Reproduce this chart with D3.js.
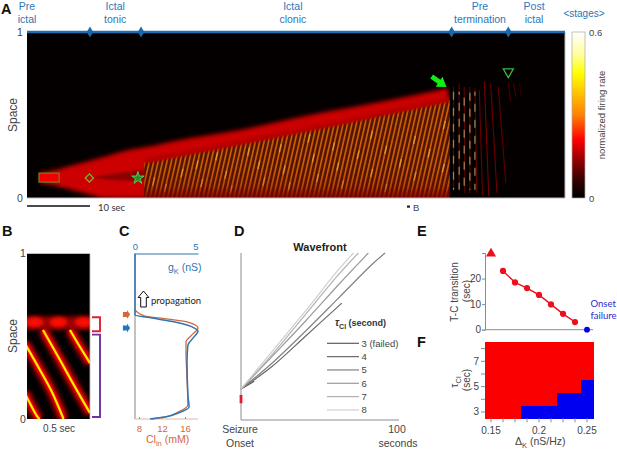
<!DOCTYPE html>
<html>
<head>
<meta charset="utf-8">
<script src="https://cdnjs.cloudflare.com/ajax/libs/d3/7.8.5/d3.min.js"></script>
<style>
  html, body { margin: 0; padding: 0; background: #fff; }
  text { font-family: "Liberation Sans", Arial, sans-serif; }
  .cal { font-family: Lato, "Open Sans", sans-serif; }
</style>
</head>
<body>
<div class="chart"></div>
<script>
// panel A: stage boundaries (sec) and labels
const stageEdges = [10, 18.1, 67.4, 76.4];
const stageLabels = [['Pre', 'ictal'], ['Ictal', 'tonic'], ['Ictal', 'clonic'], ['Pre', 'termination'], ['Post', 'ictal']];
const stageCentres = [0, 14, 42.2, 71.9, 80.5];

// colour map of the firing rate
const rateStops = [0, 0.06, 0.13, 0.21, 0.3, 0.45, 0.52, 0.6];
const rateColours = ['#000000', '#300000', '#8a0000', '#ff0000', '#ff8000', '#ffff00', '#ffffa0', '#ffffff'];

// wavefront of panel A: time (sec), upper and lower edge of the red band in space
const frontTime = [2.1, 5.1, 7.5, 10, 12.4, 16.3, 18.6, 24.3, 33.8, 44.9, 56, 66.9];
const frontUpper = [0.15, 0.175, 0.2, 0.225, 0.25, 0.29, 0.305, 0.35, 0.41, 0.5, 0.578, 0.663];
const frontLower = [0.09, 0.07, 0.045, 0.02, 0, 0, 0, 0, 0, 0, 0, 0];

// upper limit of the striped clonic part
const clonicTime = [18.6, 33.8, 49.7, 67.1];
const clonicTop = [0.217, 0.33, 0.45, 0.59];

// darker slit inside the tonic part
const slitTime = [10.5, 13, 15.5, 18.6];
const slitUpper = [0.128, 0.14, 0.155, 0.17];
const slitLower = [0.124, 0.112, 0.105, 0.1];

// clonic stripes: time at which each one meets space 0
const clonicStripes = [17.4, 18.1, 18.8, 19.5, 20.2, 20.9, 21.6, 22.3, 23.0, 23.7, 24.4, 25.1, 25.8, 26.5, 27.2, 27.9, 28.6, 29.3,
  30.0, 30.7, 31.4, 32.1, 32.8, 33.5, 34.2, 34.9, 35.6, 36.3, 37.0, 37.7, 38.4, 39.1, 39.8, 40.5, 41.2, 41.9, 42.6, 43.3, 44.0, 44.7,
  45.4, 46.1, 46.8, 47.5, 48.2, 48.9, 49.6, 50.3, 51.0, 51.7, 52.4, 53.1, 53.8, 54.5, 55.2, 55.9, 56.6, 57.3, 58.0, 58.7, 59.4,
  60.1, 60.8, 61.5, 62.2, 62.9, 63.6, 64.3, 65.0, 65.7, 66.4];
const clonicLean = 6;

// brighter spots on the stripes: stripe time, space
const clonicSpots = [[19.5, 0.1], [21.6, 0.06], [23.7, 0.15], [25.8, 0.2], [27.2, 0.09], [28.6, 0.25], [30.7, 0.14], [32.1, 0.05], [33.5, 0.28],
  [35.6, 0.2], [37.0, 0.1], [38.4, 0.3], [39.8, 0.17], [41.2, 0.07], [42.6, 0.36], [44.0, 0.24], [45.4, 0.12], [46.8, 0.31], [48.2, 0.19], [49.6, 0.08],
  [51.0, 0.26], [52.4, 0.38], [53.8, 0.15], [55.2, 0.29], [56.6, 0.06], [58.0, 0.21], [59.4, 0.35], [60.8, 0.13], [62.2, 0.27], [63.6, 0.44], [65.0, 0.18], [65.7, 0.33]];

// pretermination stripes: time at top, space at top, time at bottom, space at bottom, peak rate
const preStripes = [
  [67.7, 0.67, 67.7, 0.05, 0.1], [68.6, 0.69, 68.6, 0.05, 0.1], [69.4, 0.67, 69.5, 0.03, 0.1], [70.3, 0.67, 70.3, 0.03, 0.1],
  [71.1, 0.66, 71.4, 0.03, 0.1], [71.8, 0.65, 72.3, 0.02, 0.1], [72.6, 0.7, 73.3, 0.01, 0.115], [73.6, 0.69, 74.6, 0.03, 0.105],
  [74.8, 0.67, 76, 0.09, 0.095], [76.4, 0.69, 76.8, 0.58, 0.08], [77.2, 0.69, 77.6, 0.61, 0.08], [78.2, 0.69, 78.4, 0.62, 0.06]];
const preBright = [67.7, 68.6, 69.4, 70.3, 71.1];

// markers on panel A: time, space
const stimBox = [1.9, 5.1, 0.096, 0.15];
const diamondAt = [9.9, 0.12];
const starAt = [17.6, 0.12];
const triangleAt = [76.4, 0.76];

// panel B: travelling stripes, time (sec), space
const bStripes = [
  [[0.127, 0.538], [0.262, 0.356], [0.381, 0.193], [0.5, 0.036]],
  [[0.341, 0.538], [0.421, 0.435], [0.5, 0.338]],
  [[-0.02, 0.46], [0.103, 0.296], [0.198, 0.163], [0.29, 0]],
  [[-0.02, 0.16], [0.079, 0.018], [0.1, 0]]];
const bPulses = [0.06, 0.25, 0.45];

// panel C: conductance and chloride against space
const gkValues = [0, 0, 1.35, 3.17, 4.76, 5, 4.6, 4.2, 4.13, 4.2, 4.29, 3.41, 2.38, 1.19];
const gkSpace = [1, 0.628, 0.61, 0.586, 0.548, 0.532, 0.489, 0.447, 0.344, 0.145, 0.073, 0.036, 0.012, 0];
const clValues = [7.3, 9.04, 13.04, 16.5, 18.26, 17.2, 16.17, 16.17, 16.35, 16.5, 14.8, 12.5, 10.26];
const clSpace = [0.659, 0.622, 0.604, 0.586, 0.55, 0.508, 0.465, 0.405, 0.248, 0.085, 0.042, 0.012, 0];

// panel D: wavefronts per tau
const tauNames = ['3 (failed)', '4', '5', '6', '7', '8'];
const tauGreys = ['#5c5c5c', '#6a6a6a', '#828282', '#9a9a9a', '#b2b2b2', '#cfcfcf'];
const waveTime = [
  [0, 3.8, 8.4],
  [0, 19.6, 40.6, 63.8],
  [0, 19.6, 40.6, 61.7, 82.7, 91.2],
  [0, 19.6, 40.6, 61.7, 80.6],
  [0, 19.6, 40.6, 61.7, 74.3],
  [0, 19.6, 40.6, 61.7, 71.2]];
const waveSpace = [
  [0.186, 0.206, 0.232],
  [0.186, 0.32, 0.5, 0.7],
  [0.186, 0.34, 0.53, 0.73, 0.93, 1],
  [0.186, 0.38, 0.59, 0.81, 1],
  [0.186, 0.39, 0.63, 0.87, 1],
  [0.186, 0.41, 0.65, 0.9, 1]];

// panel E: transition time against delta K
const deltaK = [0.1625, 0.175, 0.1875, 0.2, 0.2125, 0.225, 0.2375];
const transition = [23, 18.5, 16.3, 13.6, 9.9, 6.2, 3];
const failedAt = [0.25, 0];
const noTonicAt = [0.15, 30];

// panel F: grid of delta K and tau, with the first failing delta K per tau
const gridDelta = [0.15, 0.1625, 0.175, 0.1875, 0.2, 0.2125, 0.225, 0.2375, 0.25];
const gridTau = [8, 7, 6, 5, 4, 3];
const failFrom = { 3: 0.1875, 4: 0.225, 5: 0.25 };

const blue = '#2e75b6';
const orange = '#d2693c';
const green = '#3cb43c';
const textGrey = '#444';

const svg = d3.select('div.chart').append('svg')
  .attr('width', 617).attr('height', 451).style('display', 'block');
const defs = svg.append('defs');

const blur = (id, dev) => defs.append('filter').attr('id', id)
  .attr('x', '-30%').attr('y', '-30%').attr('width', '160%').attr('height', '160%')
  .append('feGaussianBlur').attr('stdDeviation', dev);
blur('b1', 0.4);
blur('b1b', 0.55);
blur('b2', 1.3);
blur('b3', 2.3);

const rateColor = d3.scaleLinear().domain(rateStops).range(rateColours);

const label = (x, y, str, o = {}) => svg.append('text')
  .attr('x', x).attr('y', y).text(str)
  .attr('class', o.cls || null)
  .attr('fill', o.fill || textGrey)
  .attr('font-size', o.size || 10.5)
  .attr('font-weight', o.weight || null)
  .attr('text-anchor', o.anchor || 'start')
  .attr('transform', o.rotate ? `rotate(${o.rotate} ${x} ${y})` : null);

const letter = (x, y, str) => label(x, y, str, { size: 14.5, weight: 'bold', fill: '#111' });

// ---------- panel A ----------
const ax = d3.scaleLinear().domain([0, 85.4]).range([27, 565]);
const ay = d3.scaleLinear().domain([0, 1]).range([198, 32]);

defs.append('clipPath').attr('id', 'clipA').append('rect')
  .attr('x', 27).attr('y', 32).attr('width', 538).attr('height', 166);
defs.append('clipPath').attr('id', 'clipBand').append('rect')
  .attr('x', 27).attr('y', 32).attr('width', ax(67.1) - 27).attr('height', 166);

const panelA = svg.append('g').attr('clip-path', 'url(#clipA)');
panelA.append('rect').attr('x', 27).attr('y', 32).attr('width', 538).attr('height', 166).attr('fill', '#040000');

const bandArea = d3.area().x(i => ax(frontTime[i])).y0(i => ay(frontLower[i])).y1(i => ay(frontUpper[i])).curve(d3.curveMonotoneX);
panelA.append('g').attr('clip-path', 'url(#clipBand)')
  .append('path').datum(d3.range(frontTime.length))
  .attr('d', bandArea).attr('fill', rateColor(0.175)).attr('filter', 'url(#b3)');

const slitArea = d3.area().x(i => ax(slitTime[i])).y0(i => ay(slitLower[i])).y1(i => ay(slitUpper[i])).curve(d3.curveMonotoneX);
panelA.append('path').datum(d3.range(slitTime.length))
  .attr('d', slitArea).attr('fill', rateColor(0.11)).attr('filter', 'url(#b2)').attr('opacity', 0.7);

// stimulus box
panelA.append('rect')
  .attr('x', ax(stimBox[0])).attr('y', ay(stimBox[3]))
  .attr('width', ax(stimBox[1]) - ax(stimBox[0])).attr('height', ay(stimBox[2]) - ay(stimBox[3]))
  .attr('fill', rateColor(0.2)).attr('filter', 'url(#b1)');

// clonic stripes
const clonicArea = d3.area().x(i => ax(clonicTime[i])).y0(ay(0)).y1(i => ay(clonicTop[i]));
defs.append('clipPath').attr('id', 'clipClonic').append('path')
  .datum(d3.range(clonicTime.length)).attr('d', clonicArea);

const clonic = panelA.append('g').attr('clip-path', 'url(#clipClonic)');
const stripeShade = defs.append('linearGradient').attr('id', 'clonicShade').attr('x1', 0).attr('x2', 0).attr('y1', 1).attr('y2', 0);
stripeShade.append('stop').attr('offset', 0).attr('stop-color', '#7a0000').attr('stop-opacity', 0.9);
stripeShade.append('stop').attr('offset', 0.12).attr('stop-color', '#7a0000').attr('stop-opacity', 0.2);
stripeShade.append('stop').attr('offset', 0.3).attr('stop-color', '#7a0000').attr('stop-opacity', 0);

clonic.append('rect').attr('x', ax(18.6)).attr('y', ay(0.6)).attr('width', ax(67.1) - ax(18.6)).attr('height', ay(0) - ay(0.6))
  .attr('fill', '#541402');
const clonicLines = clonic.append('g').attr('filter', 'url(#b1b)');
clonicLines.selectAll('line').data(clonicStripes).enter().append('line')
  .attr('x1', d => ax(d)).attr('y1', ay(0))
  .attr('x2', d => ax(d + clonicLean)).attr('y2', ay(1))
  .attr('stroke', rateColor(0.3)).attr('stroke-opacity', 0.68).attr('stroke-width', 1.7);
clonicLines.selectAll('line.spot').data(clonicSpots).enter().append('line').classed('spot', true)
  .attr('x1', d => ax(d[0] + clonicLean * (d[1] - 0.025))).attr('y1', d => ay(d[1] - 0.025))
  .attr('x2', d => ax(d[0] + clonicLean * (d[1] + 0.025))).attr('y2', d => ay(d[1] + 0.025))
  .attr('stroke', '#e0a830').attr('stroke-opacity', 0.8).attr('stroke-width', 1.4);
clonic.append('rect').attr('x', ax(18.6)).attr('y', ay(0.6)).attr('width', ax(67.1) - ax(18.6)).attr('height', ay(0) - ay(0.6))
  .attr('fill', 'url(#clonicShade)');

// fade the top of the stripes into the band
const fadeArea = d3.area().x(i => ax(clonicTime[i])).y0(i => ay(clonicTop[i] - 0.012)).y1(i => ay(clonicTop[i] + 0.022));
panelA.append('g').attr('clip-path', 'url(#clipBand)')
  .append('path').datum(d3.range(clonicTime.length))
  .attr('d', fadeArea).attr('fill', rateColor(0.16)).attr('filter', 'url(#b2)');

// pretermination stripes
const preGroup = panelA.append('g').attr('filter', 'url(#b1)');
preGroup.selectAll('line').data(preStripes).enter().append('line')
  .attr('x1', d => ax(d[0])).attr('y1', d => ay(d[1]))
  .attr('x2', d => ax(d[2])).attr('y2', d => ay(d[3]))
  .attr('stroke', d => rateColor(d[4])).attr('stroke-width', 1.1);
const preSpots = panelA.append('g').attr('filter', 'url(#b1b)');
preSpots.selectAll('line').data(preBright).enter().append('line')
  .attr('x1', d => ax(d)).attr('y1', ay(0.64))
  .attr('x2', d => ax(d)).attr('y2', ay(0.05))
  .attr('stroke', '#b0a060').attr('stroke-opacity', 0.8).attr('stroke-width', 1.3)
  .attr('stroke-dasharray', '8 8').attr('stroke-dashoffset', (d, i) => i * 5);

// frame
svg.append('path').attr('d', `M${ax(0)},${ay(0)}H${ax(85.4)}V${ay(1)}`).attr('fill', 'none').attr('stroke', '#bbb').attr('stroke-width', 1);

// markers
const symbolAt = (type, size, x, y, rot = 0) => svg.append('path')
  .attr('d', d3.symbol().type(type).size(size)())
  .attr('transform', `translate(${x},${y}) rotate(${rot})`);

svg.append('rect')
  .attr('x', ax(stimBox[0])).attr('y', ay(stimBox[3]))
  .attr('width', ax(stimBox[1]) - ax(stimBox[0])).attr('height', ay(stimBox[2]) - ay(stimBox[3]))
  .attr('fill', 'none').attr('stroke', '#6e8a20').attr('stroke-width', 1.1);
symbolAt(d3.symbolSquare, 34, ax(diamondAt[0]), ay(diamondAt[1]), 45).attr('fill', 'none').attr('stroke', '#6ebe28').attr('stroke-width', 1.2);
symbolAt(d3.symbolStar, 48, ax(starAt[0]), ay(starAt[1])).attr('fill', '#2f8a2f').attr('stroke', '#4ed04e').attr('stroke-width', 1);
symbolAt(d3.symbolTriangle, 44, ax(triangleAt[0]), ay(triangleAt[1]), 180).attr('fill', 'none').attr('stroke', green).attr('stroke-width', 1.3);

// big green arrow, drawn pointing right then turned onto the front
const blockArrow = d3.line()([[-12, -2.4], [-3, -2.4], [-3, -6], [6, 0], [-3, 6], [-3, 2.4], [-12, 2.4]]) + 'Z';
svg.append('path').attr('d', blockArrow).attr('fill', '#10f010')
  .attr('transform', `translate(${ax(65.8)},${ay(0.69)}) rotate(35)`);

// stage bar
svg.append('line').attr('x1', 27).attr('x2', 565).attr('y1', 32).attr('y2', 32)
  .attr('stroke', '#1f6fb4').attr('stroke-width', 2.4);
svg.selectAll('path.stage').data(stageEdges).enter().append('path').classed('stage', true)
  .attr('d', d3.symbol().type(d3.symbolDiamond).size(36)())
  .attr('transform', d => `translate(${ax(d)},32)`).attr('fill', '#1c68a8');

stageLabels.forEach((pair, i) => {
  pair.forEach((str, j) => label(ax(stageCentres[i]), 9.6 + j * 13.6, str, { fill: blue, size: 10.5, anchor: 'middle' }));
});
label(584, 16.5, '<stages>', { fill: blue, size: 10, anchor: 'middle' });

letter(1, 13.5, 'A');
label(20, 36, '1', { anchor: 'middle' });
label(20, 202, '0', { anchor: 'middle' });
label(17, 115, 'Space', { rotate: -90, anchor: 'middle', size: 12 });

// scale bars
svg.append('line').attr('x1', ax(0)).attr('x2', ax(10)).attr('y1', 206).attr('y2', 206).attr('stroke', '#111').attr('stroke-width', 1.6);
label(98, 211, '10 sec', { cls: 'cal', size: 9.5, fill: '#333' });
svg.append('rect').attr('x', 407).attr('y', 205.5).attr('width', 3).attr('height', 2.2).attr('fill', '#222');
label(413, 211, 'B', { size: 9.5 });

// colour bar
const barGrad = defs.append('linearGradient').attr('id', 'rateBar').attr('x1', 0).attr('x2', 0).attr('y1', 1).attr('y2', 0);
rateStops.forEach(d => barGrad.append('stop').attr('offset', d / 0.6).attr('stop-color', rateColor(d)));
svg.append('rect').attr('x', 572).attr('y', 32).attr('width', 13).attr('height', 166)
  .attr('fill', 'url(#rateBar)').attr('stroke', '#aaa').attr('stroke-width', 0.7);
label(589, 36, '0.6', { size: 9.5 });
label(589, 202, '0', { size: 9.5 });
label(605, 115, 'normalized firing rate', { rotate: -90, anchor: 'middle', size: 9.5 });

// ---------- panel B ----------
const bx = d3.scaleLinear().domain([0, 0.5]).range([27, 90]);
const by = d3.scaleLinear().domain([0, 1]).range([419, 253.5]);
defs.append('clipPath').attr('id', 'clipB').append('rect')
  .attr('x', 27).attr('y', 253.5).attr('width', 63).attr('height', 165.5);

const panelB = svg.append('g').attr('clip-path', 'url(#clipB)');
panelB.append('rect').attr('x', 27).attr('y', 253.5).attr('width', 63).attr('height', 165.5).attr('fill', '#000');
panelB.append('rect').attr('x', 15).attr('y', by(0.62)).attr('width', 90).attr('height', by(0.54) - by(0.62))
  .attr('fill', rateColor(0.14)).attr('filter', 'url(#b3)');
panelB.selectAll('ellipse').data(bPulses).enter().append('ellipse')
  .attr('cx', d => bx(d)).attr('cy', by(0.585)).attr('rx', 9).attr('ry', 5)
  .attr('fill', rateColor(0.22)).attr('filter', 'url(#b3)');

const bLine = d3.line().x(d => bx(d[0])).y(d => by(d[1])).curve(d3.curveCatmullRom);
const bLayer = (rate, w, filt) => panelB.append('g').selectAll('path').data(bStripes).enter().append('path')
  .attr('d', bLine).attr('fill', 'none').attr('stroke', rateColor(rate)).attr('stroke-width', w).attr('filter', filt);
bLayer(0.15, 11, 'url(#b3)');
bLayer(0.21, 5, 'url(#b2)');
bLayer(0.43, 2.2, 'url(#b1b)');

svg.append('path').attr('d', `M${bx(0.5)},253.5V419`).attr('stroke', '#bbb').attr('fill', 'none').attr('stroke-width', 0.8);

letter(2, 236, 'B');
label(23, 257, '1', { anchor: 'middle' });
label(23, 423, '0', { anchor: 'middle' });
label(17, 336, 'Space', { rotate: -90, anchor: 'middle', size: 12 });
label(59, 432, '0.5 sec', { anchor: 'middle', size: 10 });

// brackets
const bracket = (y0, y1, colour) => svg.append('path')
  .attr('d', `M92,${y0}H100V${y1}H92`).attr('fill', 'none').attr('stroke', colour).attr('stroke-width', 1.9);
bracket(by(0.615), by(0.53), '#e21e2c');
bracket(by(0.51), by(0.012), '#7030a0');

// ---------- panel C ----------
const gx = d3.scaleLinear().domain([0, 5]).range([135, 198]);
const clx = d3.scaleLinear().domain([8, 16]).range([139, 185]);
const cy = by;

svg.append('line').attr('x1', 135).attr('x2', 135).attr('y1', 253.5).attr('y2', 419).attr('stroke', '#999').attr('stroke-width', 1.2);

const topAxis = svg.append('g').attr('transform', 'translate(0,253.5)')
  .call(d3.axisTop(gx).tickValues([0, 5]).tickFormat(d3.format('d')).tickSize(0).tickPadding(4));
topAxis.select('.domain').attr('stroke', blue).attr('stroke-width', 1.2);
topAxis.selectAll('text').attr('fill', blue).attr('font-size', 9.5).attr('font-family', null);
topAxis.selectAll('.tick text').attr('text-anchor', d => d === 5 ? 'end' : 'middle');

const botAxis = svg.append('g').attr('transform', 'translate(0,419)')
  .call(d3.axisBottom(clx).tickValues([8, 12, 16]).tickSize(-2).tickPadding(6));
botAxis.select('.domain').remove();
botAxis.append('line').attr('x1', 135).attr('x2', 198).attr('stroke', '#e0b8a0').attr('stroke-width', 1);
botAxis.selectAll('.tick line').attr('stroke', orange);
botAxis.selectAll('.tick text').attr('fill', orange).attr('font-size', 9.5).attr('font-family', null);

const gLine = d3.line().x(i => gx(gkValues[i])).y(i => cy(gkSpace[i])).curve(d3.curveMonotoneY);
const clLine = d3.line().x(i => clx(clValues[i])).y(i => cy(clSpace[i])).curve(d3.curveMonotoneY);
svg.append('path').datum(d3.range(clValues.length)).attr('d', clLine).attr('fill', 'none').attr('stroke', orange).attr('stroke-width', 1.3);
svg.append('path').datum(d3.range(gkValues.length)).attr('d', gLine).attr('fill', 'none').attr('stroke', blue).attr('stroke-width', 1.5);

letter(119, 236, 'C');
const gkLabel = label(168, 271, 'g', { fill: blue, size: 10.5 });
gkLabel.append('tspan').text('K').attr('dy', 3).attr('font-size', 7.5);
gkLabel.append('tspan').text(' (nS)').attr('dy', -3);
const clLabel = label(146, 443, 'Cl', { fill: orange, size: 10.5 });
clLabel.append('tspan').text('in').attr('dy', 3).attr('font-size', 7.5);
clLabel.append('tspan').text(' (mM)').attr('dy', -3);

const smallArrow = d3.line()([[-3.6, -2.6], [0.5, -2.6], [0.5, -4.6], [3.6, 0], [0.5, 4.6], [0.5, 2.6], [-3.6, 2.6]]) + 'Z';
svg.append('path').attr('d', smallArrow).attr('fill', orange).attr('transform', 'translate(126.5,314.5)');
svg.append('path').attr('d', smallArrow).attr('fill', '#1f78c0').attr('transform', 'translate(126.5,328)');

// hollow propagation arrow, same outline turned upwards
const hollowArrow = d3.line()([[-8, -2.8], [1.5, -2.8], [1.5, -5.4], [8, 0], [1.5, 5.4], [1.5, 2.8], [-8, 2.8]]) + 'Z';
svg.append('path').attr('d', hollowArrow).attr('fill', '#fff').attr('stroke', '#111').attr('stroke-width', 1)
  .attr('transform', 'translate(143.5,299) rotate(-90)');
label(151, 304, 'propagation', { cls: 'cal', size: 9.5, fill: '#222' });

// ---------- panel D ----------
const dx = d3.scaleLinear().domain([0, 100]).range([241, 399]);
const dy = d3.scaleLinear().domain([0, 1]).range([420, 253]);

svg.append('path').attr('d', `M${dx(0)},${dy(1)}V${dy(0)}H${dx(100)}`).attr('fill', 'none').attr('stroke', '#8c8c8c').attr('stroke-width', 1);
svg.append('rect').attr('x', dx(0) - 1.4).attr('y', dy(0.15)).attr('width', 2.8).attr('height', dy(0.1) - dy(0.15)).attr('fill', '#e21e2c');

const waveLine = d3.line().x(d => dx(d[0])).y(d => dy(d[1])).curve(d3.curveCatmullRom);
tauNames.forEach((name, i) => {
  const pts = waveTime[i].map((t, j) => [t, waveSpace[i][j]]);
  svg.append('path').datum(pts).attr('d', waveLine).attr('fill', 'none').attr('stroke', tauGreys[i]).attr('stroke-width', 1.2);
  const ly = 343.3 + i * 13.33;
  svg.append('line').attr('x1', 327).attr('x2', 359).attr('y1', ly).attr('y2', ly).attr('stroke', tauGreys[i]).attr('stroke-width', 1.2);
  label(361.5, ly + 3.4, name, { size: 9.5, fill: '#444' });
});

letter(234, 236, 'D');
label(320, 251, 'Wavefront', { size: 11, weight: 'bold', anchor: 'middle', fill: '#222' });
const tauTitle = label(335, 326, 'τ', { size: 10, fill: '#333', weight: 'bold' });
tauTitle.attr('font-style', 'italic');
tauTitle.append('tspan').text('Cl').attr('dy', 3).attr('font-size', 7).attr('font-style', 'normal');
tauTitle.append('tspan').text(' (second)').attr('dy', -3).attr('font-size', 9).attr('font-style', 'normal');
label(240, 433, 'Seizure', { anchor: 'middle', size: 10.5 });
label(240, 447, 'Onset', { anchor: 'middle', size: 10.5 });
label(397, 433, '100', { anchor: 'middle', size: 10.5 });
label(398, 447, 'seconds', { anchor: 'middle', size: 10.5 });

// ---------- panel E ----------
const ex = d3.scaleLinear().domain([0.15, 0.25]).range([491, 587]);
const ey = d3.scaleLinear().domain([0, 30]).range([329.7, 253]);

const eLeft = svg.append('g').attr('transform', 'translate(485,0)')
  .call(d3.axisLeft(ey).tickValues([0, 10, 20]).tickSize(3).tickPadding(1));
eLeft.select('.domain').attr('stroke', '#8c8c8c');
eLeft.selectAll('.tick line').attr('stroke', '#8c8c8c');
eLeft.selectAll('.tick text').attr('fill', textGrey).attr('font-size', 10).attr('font-family', null);
svg.append('line').attr('x1', 485).attr('x2', 593).attr('y1', ey(0)).attr('y2', ey(0)).attr('stroke', '#8c8c8c');

const eLine = d3.line().x(i => ex(deltaK[i])).y(i => ey(transition[i]));
svg.append('path').datum(d3.range(deltaK.length)).attr('d', eLine).attr('fill', 'none').attr('stroke', '#e8101c').attr('stroke-width', 1.4);
svg.selectAll('circle.tc').data(deltaK).enter().append('circle').classed('tc', true)
  .attr('cx', d => ex(d)).attr('cy', (d, i) => ey(transition[i])).attr('r', 3.1).attr('fill', '#ee0f1c');
svg.append('circle').attr('cx', ex(failedAt[0])).attr('cy', ey(failedAt[1])).attr('r', 2.9).attr('fill', '#0000e0');
svg.append('path').attr('d', d3.symbol().type(d3.symbolTriangle).size(44)())
  .attr('transform', `translate(${ex(noTonicAt[0])},${ey(noTonicAt[1]) + 0.5})`).attr('fill', '#ee0f1c');

letter(417, 236, 'E');
label(458, 292, 'T-C transition', { rotate: -90, anchor: 'middle', size: 10 });
label(470, 291, '(sec)', { rotate: -90, anchor: 'middle', size: 10 });
label(590.5, 307, 'Onset', { fill: '#2a2ad0', size: 9.5, cls: 'cal' });
label(590.5, 319, 'failure', { fill: '#2a2ad0', size: 9.5, cls: 'cal' });

// ---------- panel F ----------
const fx = d3.scaleBand().domain(gridDelta).range([485, 593]);
const fy = d3.scaleBand().domain(gridTau).range([342.3, 418.3]);
const cells = gridTau.flatMap(tau => gridDelta.map(dk => ({ tau, dk })));

svg.selectAll('rect.cell').data(cells).enter().append('rect').classed('cell', true)
  .attr('x', d => fx(d.dk)).attr('y', d => fy(d.tau))
  .attr('width', fx.bandwidth() + 0.6).attr('height', fy.bandwidth() + 0.6)
  .attr('shape-rendering', 'crispEdges')
  .attr('fill', d => (failFrom[d.tau] !== undefined && d.dk >= failFrom[d.tau]) ? '#0000f0' : '#fa0000');

const fBottom = svg.append('g').attr('transform', 'translate(0,418.3)')
  .call(d3.axisBottom(fx).tickSize(4).tickPadding(5).tickFormat(d => [0.15, 0.2, 0.25].includes(d) ? String(d) : ''));
fBottom.select('.domain').remove();
fBottom.selectAll('.tick line').attr('stroke', '#8c8c8c');
fBottom.selectAll('.tick text').attr('fill', textGrey).attr('font-size', 10).attr('font-family', null);

const fLeft = svg.append('g').attr('transform', 'translate(485,0)')
  .call(d3.axisLeft(fy).tickSize(4).tickPadding(2).tickFormat(d => d % 2 ? String(d) : ''));
fLeft.select('.domain').remove();
fLeft.selectAll('.tick line').attr('stroke', '#8c8c8c');
fLeft.selectAll('.tick text').attr('fill', textGrey).attr('font-size', 10).attr('font-family', null);

letter(417, 347, 'F');
const fTau = label(458, 382, 'τ', { rotate: -90, anchor: 'middle', size: 10.5 });
fTau.append('tspan').text('Cl').attr('dy', 3).attr('font-size', 7.5);
label(470, 380, '(sec)', { rotate: -90, anchor: 'middle', size: 10 });
const fDelta = label(515, 445, 'Δ', { size: 10.5 });
fDelta.append('tspan').text('K').attr('dy', 3).attr('font-size', 7.5);
fDelta.append('tspan').text(' (nS/Hz)').attr('dy', -3);
</script>
</body>
</html>
